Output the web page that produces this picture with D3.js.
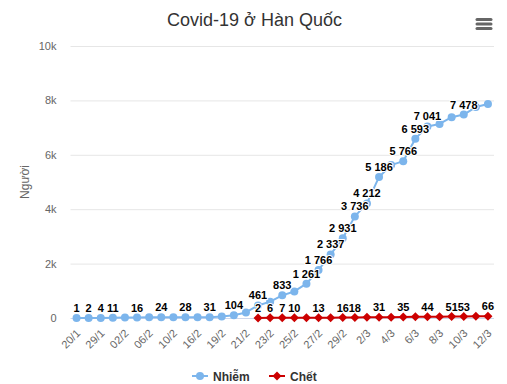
<!DOCTYPE html>
<html><head><meta charset="utf-8">
<script src="https://cdn.jsdelivr.net/npm/d3@7"></script>
<style>
html,body{margin:0;padding:0;background:#fff;}
svg{display:block;font-family:"Liberation Sans",Arial,Helvetica,sans-serif;}
</style></head>
<body>
<svg id="chart" width="507" height="384"></svg>
<script>
const title = "Covid-19 ở Hàn Quốc";
const yTitle = "Người";
const categories = ["20/1","24/1","29/1","31/1","02/2","04/2","06/2","08/2","10/2","13/2","16/2","18/2","19/2","20/2","21/2","22/2","23/2","24/2","25/2","26/2","27/2","28/2","29/2","1/3","2/3","3/3","4/3","5/3","6/3","7/3","8/3","9/3","10/3","11/3","12/3"];
const nhiem = [1,2,4,11,15,16,23,24,27,28,29,31,51,104,204,461,602,833,977,1261,1766,2337,2931,3736,4212,5186,5621,5766,6593,7041,7134,7382,7478,7755,7869];
const chet = [null,null,null,null,null,null,null,null,null,null,null,null,null,null,null,2,6,7,10,11,13,13,16,18,28,31,32,35,42,44,50,51,53,60,66];
const nhiemLabelIdx = [0,1,2,3,5,7,9,11,13,15,17,19,20,21,22,23,24,25,27,28,29,32];
const chetLabelIdx = [15,16,17,18,20,22,23,25,27,29,31,32,34];
const yTicks = [0,2000,4000,6000,8000,10000];
const seriesNames = ["Nhiễm","Chết"];
const seriesColors = ["#7cb5ec","#cc0000"];

const svg = d3.select("#chart");
const W = 507, H = 384;
const pLeft = 70.5, pRight = 494, pTop = 46, pBottom = 318;

const x = d3.scalePoint().domain(categories).range([pLeft, pRight]).padding(0.5);
const y = d3.scaleLinear().domain([0,10000]).range([pBottom, pTop]);

const loc = d3.formatLocale({decimal:".", thousands:" ", grouping:[3], currency:["",""]});
const fmt = loc.format(",d");

// title
svg.append("text").attr("x", W/2+1).attr("y", 26).attr("text-anchor","middle")
  .attr("font-size", 18).attr("fill","#333").text(title);

// menu icon
[19.5,24,28.5].forEach(yy=>{
  svg.append("line").attr("x1",477).attr("x2",491).attr("y1",yy).attr("y2",yy)
    .attr("stroke","#666").attr("stroke-width",3).attr("stroke-linecap","round");
});

// grid
const yAxis = d3.axisLeft(y).tickValues(yTicks).tickSize(-(pRight-pLeft))
  .tickFormat(d => d===0 ? "0" : (d/1000)+"k");
const gy = svg.append("g").attr("transform",`translate(${pLeft},0)`).call(yAxis);
gy.select(".domain").remove();
gy.selectAll(".tick line").attr("stroke", d => d===0 ? "none" : "#e6e6e6");
gy.selectAll(".tick text").attr("x",-14).attr("dy","0.32em").attr("fill","#666")
  .attr("font-size",11).attr("font-family","Liberation Sans,Arial,sans-serif");

// x axis
const xAxis = d3.axisBottom(x).tickSize(0)
  .tickFormat((d,i)=> i%2===0 ? d : "");
const gx = svg.append("g").attr("transform",`translate(0,${pBottom})`).call(xAxis);
gx.select(".domain").attr("stroke","#ccd6eb").attr("d",`M${pLeft},0.5H${pRight}`);
gx.selectAll(".tick text")
  .attr("font-size",11).attr("fill","#666").attr("font-family","Liberation Sans,Arial,sans-serif")
  .attr("text-anchor","end").attr("dy",null).attr("y",0)
  .attr("transform","translate(4,16) rotate(-45)");

// y title
svg.append("text").attr("transform",`translate(29,182) rotate(-90)`).attr("text-anchor","middle")
  .attr("font-size",12).attr("fill","#666").text(yTitle);

// lines
const series = [nhiem, chet];
series.forEach((vals, s)=>{
  const line = d3.line().defined(d=>d!=null).x((d,i)=>x(categories[i])).y(d=>y(d));
  svg.append("path").datum(vals).attr("d",line).attr("fill","none")
    .attr("stroke",seriesColors[s]).attr("stroke-width",2).attr("stroke-linejoin","round");
  const pts = vals.map((v,i)=>({v,i})).filter(p=>p.v!=null);
  if (s===0) {
    svg.append("g").selectAll("circle").data(pts).join("circle")
      .attr("cx",p=>x(categories[p.i])).attr("cy",p=>y(p.v)).attr("r",4)
      .attr("fill",seriesColors[s]);
  } else {
    const r = 4.5;
    svg.append("g").selectAll("path").data(pts).join("path")
      .attr("d",p=>{const cx=x(categories[p.i]), cy=y(p.v); return `M${cx},${cy-r}L${cx+r},${cy}L${cx},${cy+r}L${cx-r},${cy}Z`;})
      .attr("fill",seriesColors[s]);
  }
});

// data labels
[[nhiem,nhiemLabelIdx],[chet,chetLabelIdx]].forEach(([vals, idx])=>{
  svg.append("g").selectAll("text").data(idx).join("text")
    .attr("x",i=>x(categories[i])).attr("y",i=>y(vals[i])-6)
    .attr("text-anchor","middle").attr("font-size",11).attr("font-weight","bold")
    .attr("fill","#000").attr("stroke","#fff").attr("stroke-width",2)
    .attr("paint-order","stroke").attr("stroke-linejoin","round")
    .text(i=>fmt(vals[i]));
});

// legend
const legendItems = [{x:192, tx:213},{x:269, tx:290}];
legendItems.forEach((it,s)=>{
  const g = svg.append("g");
  g.append("line").attr("x1",it.x).attr("x2",it.x+16).attr("y1",376).attr("y2",376)
    .attr("stroke",seriesColors[s]).attr("stroke-width",2);
  const cx = it.x+8, cy=376;
  if (s===0) g.append("circle").attr("cx",cx).attr("cy",cy).attr("r",4).attr("fill",seriesColors[s]);
  else g.append("path").attr("d",`M${cx},${cy-4.5}L${cx+4.5},${cy}L${cx},${cy+4.5}L${cx-4.5},${cy}Z`).attr("fill",seriesColors[s]);
  g.append("text").attr("x",it.tx).attr("y",380.5).attr("font-size",12).attr("font-weight","bold")
    .attr("fill","#333").text(seriesNames[s]);
});
</script>
</body></html>
